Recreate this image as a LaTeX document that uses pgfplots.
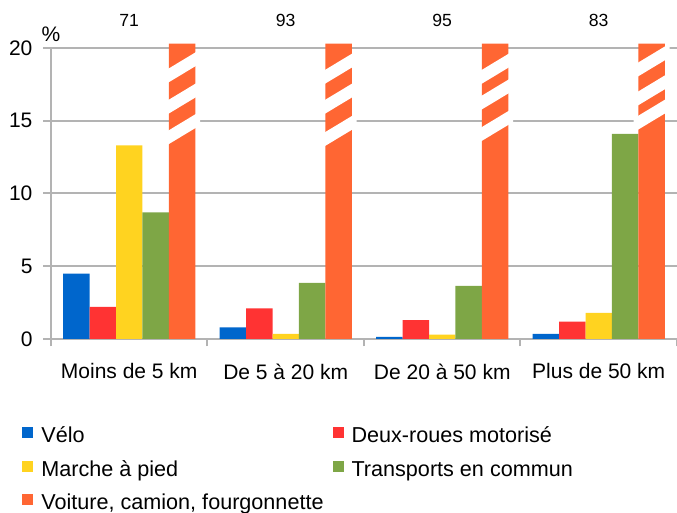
\documentclass[border=0pt]{standalone}
\usepackage{pgfplots}
\pgfplotsset{compat=1.18}
\usepackage{fontspec}
\setmainfont{Liberation Sans}
\definecolor{cvelo}{HTML}{0066CC}
\definecolor{cdeux}{HTML}{FF3333}
\definecolor{cmarche}{HTML}{FFD320}
\definecolor{ctrans}{HTML}{7EA646}
\definecolor{cvoit}{HTML}{FF6633}
\definecolor{cgrid}{HTML}{B3B3B3}
% white break stripe over the truncated car bars: #1 = category, #2 = lower edge at bar left
\newcommand{\brk}[2]{%
  \fill[white] (axis cs:{#1+0.2235},{#2-0.195}) -- (axis cs:{#1+0.4525},{#2+1.29})
    -- (axis cs:{#1+0.4525},{#2+2.24}) -- (axis cs:{#1+0.2235},{#2+0.755}) -- cycle;}
\begin{document}
\begin{tikzpicture}
\useasboundingbox (-25.5pt,-87pt) rectangle (313pt,169.5pt);
\begin{axis}[
  at={(0,0)}, anchor=south west,
  scale only axis, width=313pt, height=145.5pt,
  xmin=-0.5, xmax=3.5, ymin=0, ymax=20,
  clip=false,
  axis lines=left,
  axis line style={-, draw=cgrid, line width=1pt},
  xtick={-0.5,0.5,1.5,2.5,3.5},
  x tick label as interval,
  xticklabels={Moins de 5 km, De 5 à 20 km, De 20 à 50 km, Plus de 50 km},
  ytick={0,5,10,15,20},
  ymajorgrids,
  grid style={draw=cgrid, line width=1pt},
  tick align=outside,
  major tick length=3.75pt,
  tick style={draw=cgrid, line width=1pt},
  /pgf/number format/assume math mode=true,
  ticklabel style={font=\fontsize{10.5}{12}\selectfont},
  xticklabel style={yshift=-5pt},
  yticklabel style={xshift=-2pt},
  legend columns=2,
  legend cell align=left,
  legend image code/.code={\fill[#1,draw=none] (0pt,-0.5pt) rectangle (5.5pt,5pt);},
  legend style={draw=none, fill=none, at={(0,0)}, anchor=north west,
    xshift=-14.5pt, yshift=-44pt,
    font=\fontsize{10.8}{12}\selectfont,
    inner sep=0pt, row sep=6.75pt,
    nodes={inner sep=0pt, text height=7.8pt, text depth=2.2pt},
    /tikz/every even column/.append style={column sep=4.5pt},
    /tikz/every odd column/.append style={column sep=4pt}},
]
\addplot[ybar, bar width=0.169, bar shift=-0.338, fill=cvelo, draw=none]
  coordinates {(0,4.5) (1,0.8) (2,0.15) (3,0.35)};
\addlegendentry{Vélo}
\addplot[ybar, bar width=0.169, bar shift=-0.169, fill=cdeux, draw=none]
  coordinates {(0,2.2) (1,2.1) (2,1.3) (3,1.2)};
\addlegendentry{Deux-roues motorisé}
\addplot[ybar, bar width=0.169, bar shift=0, fill=cmarche, draw=none]
  coordinates {(0,13.3) (1,0.35) (2,0.3) (3,1.8)};
\addlegendentry{Marche à pied}
\addplot[ybar, bar width=0.169, bar shift=0.169, fill=ctrans, draw=none]
  coordinates {(0,8.7) (1,3.85) (2,3.65) (3,14.1)};
\addlegendentry{Transports en commun}
\addplot[ybar, bar width=0.169, bar shift=0.338, fill=cvoit, draw=none,
  restrict y to domain*=0:20.3,
  point meta=explicit symbolic,
  nodes near coords,
  every node near coord/.append style={font=\fontsize{8.8}{10}\selectfont, anchor=base, inner sep=0pt, yshift=8.5pt, text=black}]
  coordinates {(0,71) [71] (1,93) [93] (2,95) [95] (3,83) [83]};
\addlegendentry{Voiture, camion, fourgonnette}
\brk{0}{17.65}\brk{0}{15.5}\brk{0}{13.4}
\brk{1}{17.56}\brk{1}{15.5}\brk{1}{13.28}
\brk{2}{17.55}\brk{2}{15.78}\brk{2}{13.62}
\brk{3}{18.06}\brk{3}{16.07}\brk{3}{14.4}
\node[font=\fontsize{10.5}{12}\selectfont, anchor=base] at (rel axis cs:0,1) [yshift=3pt] {\%};
\end{axis}
\end{tikzpicture}
\end{document}
